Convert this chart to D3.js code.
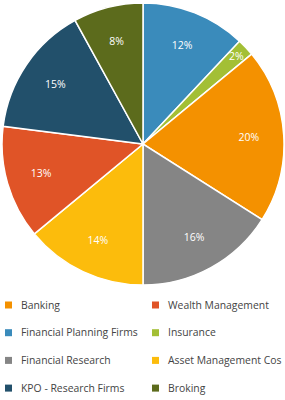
<!DOCTYPE html>
<html lang="en">
<head>
    <meta charset="UTF-8">
    <title>Pie chart</title>
    <script src="https://d3js.org/d3.v7.min.js"></script>
    <style>
        body { margin: 0; background: #fff; font-family: "Open Sans", sans-serif; }
        .label { fill: #fff; font-size: 10.5px; }
        .legend text { fill: #444; font-size: 10.4px; }
    </style>
</head>
<body>
    <svg width="285" height="400"></svg>

    <script>
        // slices in clockwise order from 12 o'clock
        const categories = ["Financial Planning Firms", "Insurance", "Banking", "Financial Research",
            "Asset Management Cos", "Wealth Management", "KPO - Research Firms", "Broking"];
        const values = [12, 2, 20, 16, 14, 13, 15, 8];
        const colors = ["#3a8bbb", "#a3bf35", "#f49100", "#858585",
            "#fcbc0c", "#e05427", "#22506b", "#5c6b1c"];

        // legend order (row by row, two columns)
        const legendOrder = ["Banking", "Wealth Management", "Financial Planning Firms", "Insurance",
            "Financial Research", "Asset Management Cos", "KPO - Research Firms", "Broking"];

        const data = categories.map((c, i) => ({ name: c, value: values[i], color: colors[i] }));

        const svg = d3.select("svg");
        const cx = 143, cy = 144, radius = 141;

        const pie = d3.pie().sort(null).value(d => d.value);
        const arc = d3.arc().innerRadius(0).outerRadius(radius);

        const g = svg.append("g").attr("transform", `translate(${cx},${cy})`);

        const arcs = pie(data);

        g.selectAll("path")
            .data(arcs)
            .join("path")
            .attr("d", arc)
            .attr("fill", d => d.data.color)
            .attr("stroke", "#fff")
            .attr("stroke-width", 1.5);

        g.selectAll("text")
            .data(arcs)
            .join("text")
            .attr("class", "label")
            .attr("text-anchor", "middle")
            .attr("dy", "0.35em")
            .attr("transform", d => {
                const r = d.data.value < 5 ? 128 : 106;
                const la = d3.arc().innerRadius(r).outerRadius(r);
                return `translate(${la.centroid(d)})`;
            })
            .text(d => d.data.value + "%");

        const colorOf = d3.scaleOrdinal().domain(categories).range(colors);

        const legend = svg.append("g").attr("class", "legend");
        const items = legend.selectAll("g")
            .data(legendOrder)
            .join("g")
            .attr("transform", (d, i) => `translate(${i % 2 === 0 ? 5 : 152},${305 + Math.floor(i / 2) * 27.7})`);

        items.append("rect")
            .attr("x", 0).attr("y", -3.5)
            .attr("width", 7).attr("height", 7)
            .attr("fill", d => colorOf(d));

        items.append("text")
            .attr("x", 16)
            .attr("dy", "0.35em")
            .text(d => d);
    </script>
</body>
</html>
